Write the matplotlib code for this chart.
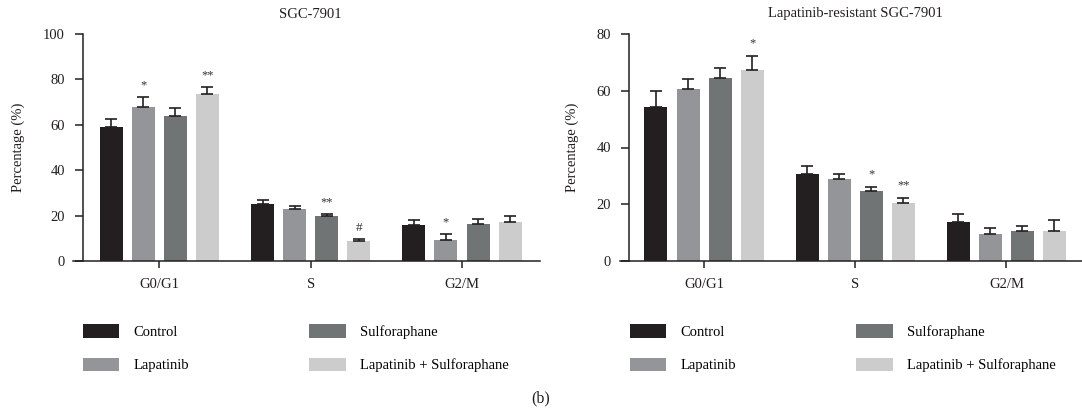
import matplotlib
matplotlib.use("Agg")
import matplotlib.pyplot as plt
import matplotlib.transforms as mtransforms
import numpy as np

plt.rcParams['font.family'] = ['Liberation Serif', 'DejaVu Serif']

phases = ['G0/G1', 'S', 'G2/M']
groups = ['Control', 'Lapatinib', 'Sulforaphane', 'Lapatinib + Sulforaphane']
colors = ['#231f20', '#939598', '#717474', '#cbcccb']

# SGC-7901 (rows = groups, cols = phases)
sgc_mean = [[58.9, 25.3, 15.7],
            [67.7, 22.8, 9.1],
            [63.9, 19.7, 16.2],
            [73.6, 8.7, 17.1]]
sgc_err = [[3.8, 1.4, 2.3],
           [4.4, 1.4, 2.6],
           [3.4, 1.2, 2.3],
           [3.2, 0.9, 2.6]]
sgc_marks = [['', '', ''],
             ['*', '', '*'],
             ['', '**', ''],
             ['**', '#', '']]

# Lapatinib-resistant SGC-7901
res_mean = [[54.2, 30.5, 13.7],
            [60.6, 29.0, 9.5],
            [64.5, 24.5, 10.6],
            [67.3, 20.5, 10.6]]
res_err = [[5.7, 3.0, 2.7],
           [3.5, 1.5, 2.2],
           [3.5, 1.5, 1.8],
           [4.8, 1.6, 3.7]]
res_marks = [['', '', ''],
             ['', '', ''],
             ['', '*', ''],
             ['*', '**', '']]

fig = plt.figure(figsize=(10.82, 4.17), dpi=100)
W, H = 1082.0, 417.0

dark = '#231f20'
pitch = 0.212
width = 0.152


def panel(rect, means, errs, marks, ymax, title, xlo, spine_x, xhi, star_off, ylab_x):
    ax = fig.add_axes(rect)
    x = np.arange(len(phases))
    for i, g in enumerate(groups):
        pos = x + (i - 1.5) * pitch
        ax.bar(pos, means[i], width, color=colors[i], label=g, zorder=2)
        ax.errorbar(pos, means[i], yerr=[np.zeros(3), errs[i]], fmt='none',
                    ecolor=dark, elinewidth=1.2, capsize=4.5, capthick=1.2, zorder=3)
        for j in range(3):
            if marks[i][j]:
                m = marks[i][j]
                fs = 9.5 if m == '#' else 9
                ax.text(pos[j], means[i][j] + errs[i][j] + star_off, m,
                        ha='center', va='bottom', fontsize=fs, color='#333333')
    ax.set_xlim(xlo, xhi)
    ax.set_ylim(0, ymax)
    ax.set_yticks(np.arange(0, ymax + 1, 20))
    ax.set_xticks(x)
    ax.set_xticklabels(phases)
    for s in ['top', 'right']:
        ax.spines[s].set_visible(False)
    ax.spines['left'].set_position(('data', spine_x))
    for s in ['left', 'bottom']:
        ax.spines[s].set_linewidth(1.1)
        ax.spines[s].set_color(dark)
    ax.tick_params(axis='both', colors=dark, labelcolor='#231f20', width=1.1,
                   labelsize=10.5)
    ax.tick_params(axis='y', length=6, pad=7)
    ax.tick_params(axis='x', length=5, pad=7)
    ax.set_ylabel('Percentage (%)', fontsize=10.5, color=dark)
    ax.yaxis.set_label_coords(ylab_x, 0.5)
    trans = mtransforms.blended_transform_factory(ax.transData, fig.transFigure)
    ax.text(1, 1 - 14 / H, title, transform=trans, ha='center', va='center',
            fontsize=10.5, color=dark)
    ax.legend(ncol=2, loc='upper left', frameon=False,
              bbox_to_anchor=(rect[0] + 10 / W, 1 - 324 / H),
              bbox_transform=fig.transFigure, borderpad=0, borderaxespad=0,
              handlelength=2.5, handleheight=1.05, handletextpad=0.95,
              labelspacing=1.3, columnspacing=8.25, fontsize=10.5)
    return ax


panel([73 / W, 156 / H, 467 / W, 227 / H], sgc_mean, sgc_err, sgc_marks, 100,
      'SGC-7901', -0.57, -0.504, 2.515, 2.5, -0.103)
panel([620 / W, 156 / H, 462 / W, 227 / H], res_mean, res_err, res_marks, 80,
      'Lapatinib-resistant SGC-7901', -0.556, -0.495, 2.50, 2.5, -0.089)

fig.text(541 / W, 1 - 398 / H, '(b)', ha='center', va='center', fontsize=11.5,
         color=dark)

fig.savefig('out.png', dpi=100)
